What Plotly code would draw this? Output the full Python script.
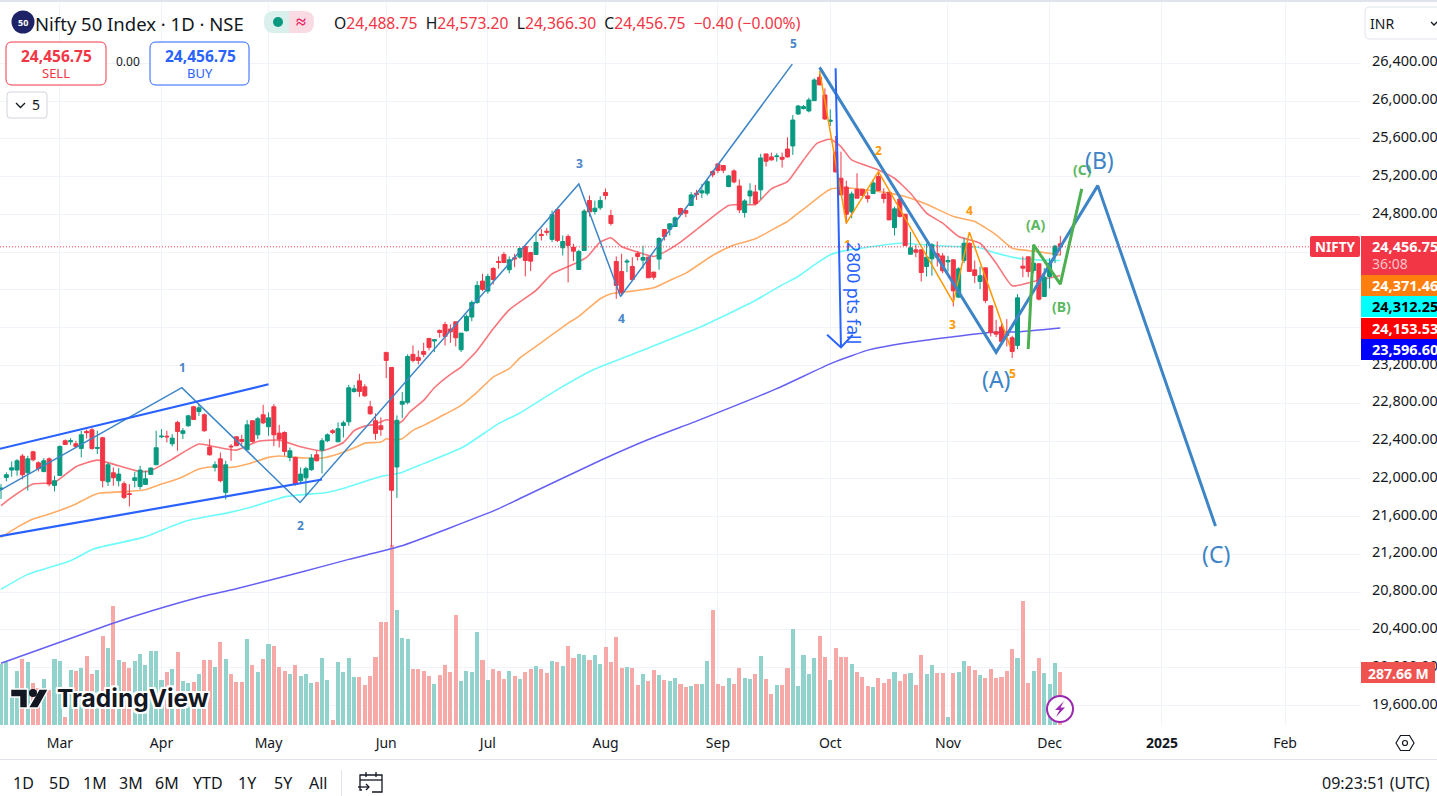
import plotly.graph_objects as go

W, H = 1437, 796
FONT = "Noto Sans"
INK = "#131722"
GREEN = "#089981"
RED = "#f23645"
BLUE = "#2962ff"
WAVE = "#3d85c6"

opens = [
21888,22015,22093,22093,22241,22064,22286,22170,22078,22212,
21930,22036,22403,22392,22371,22322,22502,22519,22322,22435,
21969,22064,21980,21948,21842,21983,21920,21941,22047,22149,
22445,22452,22371,22597,22481,22562,22763,22713,22678,22336,
22121,22212,21856,22346,22445,22417,22308,22615,22466,22678,
22551,22763,22484,22491,22227,22227,21980,22011,22096,22255,
22304,22403,22509,22392,22565,22604,22925,23038,22974,22763,
22615,22562,23339,23180,22125,22790,22810,23318,23286,23349,
23487,23459,23572,23635,23586,23663,23367,23568,23713,23868,
24094,23988,24228,24302,24376,24214,24341,24348,24461,24397,
24376,24588,24623,24535,24852,24447,24566,24454,24217,24418,
24947,24831,24870,25032,24789,24302,24196,24295,24249,24387,
24316,24348,24189,24327,24640,24644,24672,24863,24842,24894,
25025,25028,25025,25254,25335,25318,25095,25261,25102,24820,
24996,25038,25060,25441,25409,25412,25405,25493,25525,25864,
25920,25896,26005,26252,26065,25786,25458,25183,25091,24827,
25067,25067,24996,25021,25201,25017,25035,24661,24964,24802,
24379,24425,24425,24248,24330,24383,24361,24298,24319,23924,
24312,24495,24213,24090,24234,23832,23557,23607,23539,23494,
23413,24252,24351,24206,24277,23931,24143,24365,24488.75]
closes = [
21902,22043,22117,22191,22043,22212,22202,22107,22191,21944,
21980,22343,22364,22403,22343,22466,22488,22322,22332,21980,
22149,22011,22050,21803,21835,22011,22093,22001,22114,22329,
22452,22445,22431,22502,22509,22667,22629,22752,22509,22255,
22149,21980,22149,22339,22350,22396,22572,22396,22636,22593,
22646,22466,22421,22290,22297,21944,22050,22107,22220,22191,
22403,22466,22491,22530,22593,22964,22953,22925,22879,22689,
22481,22523,23254,21879,22620,22820,23296,23254,23254,23318,
23392,23473,23550,23508,23557,23494,23543,23720,23868,24048,
24006,24143,24111,24291,24291,24320,24330,24439,24312,24305,
24503,24577,24612,24799,24524,24513,24471,24411,24408,24835,
24827,24866,24947,25000,24704,24048,23970,24305,24111,24355,
24344,24129,24136,24545,24566,24700,24764,24799,24813,25007,
25011,25050,25148,25219,25265,25268,25208,25144,24848,24943,
25049,24915,25398,25363,25377,25419,25384,25409,25800,25948,
25941,26012,26224,26171,25811,25797,25250,25007,24802,25017,
24972,25000,24968,25134,25053,24968,24742,24859,24778,24471,
24446,24400,24185,24347,24478,24347,24203,24312,23991,24224,
24495,24196,24153,24150,23889,23550,23532,23455,23518,23349,
23917,24231,24196,24284,23903,24136,24284,24464,24456.75]
highs = [
21944,22068,22184,22209,22262,22244,22297,22184,22220,22227,
22033,22354,22417,22431,22403,22509,22523,22537,22509,22445,
22174,22121,22114,21973,21944,22075,22138,22085,22121,22509,
22526,22509,22473,22615,22537,22678,22773,22791,22692,22421,
22184,22279,22191,22368,22445,22466,22622,22622,22657,22784,
22703,22791,22572,22502,22332,22234,22121,22128,22262,22297,
22431,22481,22526,22597,22615,22995,22995,23112,23002,22826,
22692,22650,23339,23180,22672,22919,23318,23413,23360,23441,
23487,23480,23582,23663,23635,23663,23543,23741,23889,24094,
24171,24171,24242,24355,24401,24355,24383,24454,24461,24404,
24602,24648,24658,24842,24852,24577,24588,24489,24425,24856,
25000,24947,24990,25074,24849,24355,24383,24330,24348,24411,
24468,24355,24193,24559,24640,24707,24778,24870,24849,25036,
25060,25124,25177,25265,25335,25321,25218,25278,25172,24961,
25130,25113,25441,25441,25455,25448,25455,25617,25853,25959,
25959,26037,26241,26290,26135,25913,25631,25465,25158,25042,
25236,25067,25042,25165,25243,25077,25038,24883,24972,24806,
24615,24478,24432,24495,24495,24513,24390,24361,24326,24241,
24548,24502,24312,24248,24241,23839,23684,23642,23691,23515,
23956,24354,24354,24361,24284,24231,24337,24478,24573.20]
lows = [
21786,21973,22022,22033,21994,21874,22184,22078,22068,21920,
21867,22036,22357,22361,22325,22227,22428,22308,22262,21909,
21923,21927,21920,21786,21708,21909,21888,21937,22043,22149,
22431,22385,22343,22297,22421,22551,22622,22667,22498,22244,
22078,21962,21782,22191,22350,22361,22308,22382,22421,22579,
22456,22346,22332,22244,22184,21927,21944,21821,22085,22184,
22057,22389,22473,22392,22438,22562,22914,22868,22868,22678,
22413,22456,23067,21281,21798,22644,22789,23233,23212,23289,
23360,23342,23494,23413,23441,23402,23342,23561,23670,23854,
23988,23960,24059,24224,24284,24178,24242,24330,24143,24200,
24376,24524,24577,24506,24506,24365,24080,24305,24217,24418,
24778,24799,24849,24958,24683,23907,23942,24189,24094,24312,
24224,24129,24108,24214,24524,24577,24665,24792,24771,24894,
24954,24972,25000,25194,25237,25237,25088,25130,24813,24767,
24908,24897,24961,25307,25370,25359,25296,25402,25430,25853,
25913,25881,26005,26171,25800,25737,25247,25007,24700,24760,
24972,25000,24926,25017,25049,24919,24742,24577,24767,24471,
24372,24347,24090,24143,24150,24248,24178,24196,23825,23920,
24284,24196,24072,24009,23860,23508,23501,23420,23402,23279,
23374,24136,24136,24178,23889,23924,24016,24284,24366.30]
volumes_m = [
331,340,167,293,358,342,228,199,250,190,
358,348,43,299,293,310,375,277,299,483,
418,646,353,342,310,348,386,326,402,402,
244,288,304,396,239,228,233,277,353,353,
315,451,358,277,233,233,467,326,288,358,
440,429,315,293,277,326,266,277,228,233,
364,244,27,342,288,364,261,261,217,266,
369,559,559,977,624,472,467,304,304,293,
266,223,272,326,288,597,239,293,288,505,
353,244,304,293,250,293,266,250,288,304,
320,304,
282,348,342,320,429,364,386,380,353,380,
331,424,342,478,310,315,310,217,277,239,
299,272,244,239,255,223,206,212,223,223,
348,624,223,212,255,223,310,255,250,277,
375,250,168,217,217,310,521,212,380,277,
364,483,369,244,418,369,369,331,288,261,
212,206,255,228,250,288,239,277,282,217,
380,277,326,282,282,43,282,288,348,320,
299,272,255,304,255,261,293,413,364,673,
228,293,364,282,223,337,287.66]
assert len(opens) == len(closes) == len(highs) == len(lows) == len(volumes_m) == 199

bars = list(range(len(opens)))

month_bars = [11, 30, 50, 72, 91, 113, 134, 155, 177, 196, 217, 240]
month_labels = ["Mar", "Apr", "May", "Jun", "Jul", "Aug", "Sep", "Oct", "Nov", "Dec", "<b>2025</b>", "Feb"]
price_ticks = list(range(19600, 26401, 400))
covered_ticks = [24400, 24000, 23600]

ma20_bar = [0,2,6,10,14,18,22,26,28,32,37,40,44,48,52,56,60,64,66,68,70,72,73,74,75,76.4,79,81,84,86,89,92,95,100,103,107.6,109.5,112,114,116,119,122,124,127,131,136,139,141,144,147,150,152.5,155,157,159,164,167,170,173,176,179,183,186,189,193,198]
ma20_val = [21715,21803,21944,21962,22128,22198,22138,22078,22085,22209,22368,22339,22304,22396,22410,22339,22297,22385,22509,22558,22579,22625,22612,22584,22612,22707,22831,22965,23106,23184,23360,23589,23790,23995,24171,24288,24348,24506,24552,24461,24401,24355,24401,24506,24683,24894,24905,24905,25071,25148,25377,25553,25596,25518,25377,25271,25183,25024,24813,24707,24566,24495,24284,24044,24090,24153.53]
ma50_bar = [0,3,6,10,14,17,18.5,24,27,30,33.5,37,40,43,46.5,50,52,55,57,60,63,66.5,68,71,72,73,75,77,79,82,86,89,92,95,97,100,106,108,112,114,118,122,125,128,133,137,141,145.6,147,150.6,155,159,165.5,169,173,178,182,186,189,193.6,198]
ma50_val = [21380,21486,21574,21645,21733,21821,21849,21867,21884,21944,22008,22103,22128,22121,22163,22227,22241,22227,22220,22220,22262,22339,22378,22389,22424,22415,22425,22513,22566,22655,22778,22919,23078,23166,23282,23403,23649,23720,23907,23960,23988,24023,24101,24178,24365,24475,24542,24683,24725,24883,25067,25077,25031,24989,24908,24778,24725,24584,24442,24407,24371.46]
ma100_bar = [0,5,13,17.3,26.6,34.7,42.8,47,53.4,60.9,64.6,70.8,74.6,79,86.4,93,97,104,110.7,120.7,130.7,141,146,149,152.5,155,157.5,162,168,173,178,182.5,186,190,193.6,198]
ma100_val = [20830,20988,21133,21257,21380,21556,21645,21705,21814,21856,21909,22022,22061,22161,22337,22584,22697,22945,23156,23378,23607,23889,24054,24143,24284,24372,24414,24453,24495,24478,24460,24453,24390,24337,24319,24312.25]
ma200_bar = [0,20.4,27.9,37.8,43.6,56,65,74.6,92.7,97,112,121,130.7,145,155.5,162.4,169.4,178,184.3,190.5,198]
ma200_val = [20047,20460,20597,20756,20830,21010,21147,21285,21676,21792,22194,22416,22627,22955,23230,23368,23442,23505,23548,23558,23596.60]

wave_bar = [-0.2,33.8,55.9,108,115.8,147.9]
wave_val = [21877,22966,21750,25123,23931,26392]
abc_bar = [153,186,205,227]
abc_val = [26357,23339,25105,21499]
channel_top_bar = [-0.2,50]
channel_top_val = [22318,23001]
channel_low_bar = [-0.2,60]
channel_low_val = [21394,21993]
arrow_bar = [156,157]
arrow_val = [26347,23392]
arrow_head_bar = [154.4,157,159.2]
arrow_head_val = [23526,23392,23526]
sub_wave_bar = [153,158,164,178,181,188.6]
sub_wave_val = [26321,24708,25253,23868,24613,23403]
abc_small_bar = [192,193,198,202]
abc_small_val = [23375,24478,24062,25070]
last_line_bar = [-0.2,244.5]
last_close = closes[-1]

X0, X1 = 0, 1361
Y_TOP, Y_BOT = 3, 725
x_range = [-0.187, 254.2]
price_range = [19393, 27039]
vol_range = [0, 3920]
dom_x = [X0 / W, X1 / W]
dom_y = [1 - Y_BOT / H, 1 - Y_TOP / H]

fig = go.Figure()

vol_colors = ["#92d2cc" if c >= o else "#f7a9a7" for o, c in zip(opens, closes)]
fig.add_bar(x=bars, y=volumes_m, marker=dict(color=vol_colors, line_width=0), width=0.76, yaxis="y", hoverinfo="skip")

for xs, ys, col, wd in [(ma200_bar, ma200_val, "#6560f2", 1.5), (ma100_bar, ma100_val, "#70fbfb", 1.6),
                        (ma50_bar, ma50_val, "#ffad66", 1.6), (ma20_bar, ma20_val, "#f8757b", 1.6)]:
    fig.add_scatter(x=xs, y=ys, mode="lines", line=dict(color=col, width=wd, shape="spline", smoothing=0.5), yaxis="y2", hoverinfo="skip")

fig.add_candlestick(x=bars, open=opens, high=highs, low=lows, close=closes, yaxis="y3", whiskerwidth=0,
                    increasing=dict(line=dict(color=GREEN, width=1), fillcolor=GREEN),
                    decreasing=dict(line=dict(color=RED, width=1), fillcolor=RED), hoverinfo="skip")

fig.add_scatter(x=last_line_bar, y=[last_close, last_close], mode="lines", line=dict(color=RED, width=1, dash="1px 2px"), yaxis="y3", hoverinfo="skip")
for xs, ys, col, wd in [(wave_bar, wave_val, WAVE, 1.5), (channel_top_bar, channel_top_val, BLUE, 2.2), (channel_low_bar, channel_low_val, BLUE, 2.2),
                        (sub_wave_bar, sub_wave_val, "#ff9800", 1.5), (abc_bar, abc_val, WAVE, 3), (abc_small_bar, abc_small_val, "#4caf50", 3),
                        (arrow_bar, arrow_val, BLUE, 2), (arrow_head_bar, arrow_head_val, BLUE, 2)]:
    fig.add_scatter(x=xs, y=ys, mode="lines", line=dict(color=col, width=wd), yaxis="y3", hoverinfo="skip")

shapes, notes = [], []

def px(x): return x / W
def py(y): return 1 - y / H

def rect(x0, y0, x1, y1, fill="rgba(0,0,0,0)", line=None, lw=1):
    shapes.append(dict(type="rect", xref="paper", yref="paper", x0=px(x0), x1=px(x1), y0=py(y0), y1=py(y1), fillcolor=fill, line=dict(color=line or fill, width=lw if line else 0), layer="above"))

def rrect(x0, y0, x1, y1, r, fill="rgba(0,0,0,0)", line=None, lw=1):
    p = (f"M{px(x0+r)},{py(y0)}L{px(x1-r)},{py(y0)}Q{px(x1)},{py(y0)} {px(x1)},{py(y0+r)}L{px(x1)},{py(y1-r)}Q{px(x1)},{py(y1)} {px(x1-r)},{py(y1)}"
         f"L{px(x0+r)},{py(y1)}Q{px(x0)},{py(y1)} {px(x0)},{py(y1-r)}L{px(x0)},{py(y0+r)}Q{px(x0)},{py(y0)} {px(x0+r)},{py(y0)}Z")
    shapes.append(dict(type="path", xref="paper", yref="paper", path=p, fillcolor=fill, line=dict(color=line or fill, width=lw if line else 0), layer="above"))

def poly(pts, fill=None, line=None, lw=1, close=True):
    p = "M" + "L".join(f"{px(a)},{py(b)}" for a, b in pts) + ("Z" if close else "")
    shapes.append(dict(type="path", xref="paper", yref="paper", path=p, fillcolor=fill or "rgba(0,0,0,0)", line=dict(color=line or "rgba(0,0,0,0)", width=lw), layer="above"))

def circle(cx, cy, r, fill="rgba(0,0,0,0)", line=None, lw=1):
    shapes.append(dict(type="circle", xref="paper", yref="paper", x0=px(cx-r), x1=px(cx+r), y0=py(cy-r), y1=py(cy+r), fillcolor=fill, line=dict(color=line or fill, width=lw if line else 0), layer="above"))

def note(x, y, text, size=14, color=INK, anchor="center", angle=0, family=FONT, shadow=None):
    font = dict(size=size, color=color, family=family)
    if shadow:
        font["shadow"] = shadow
    notes.append(dict(xref="paper", yref="paper", x=px(x), y=py(y), text=text, showarrow=False, xanchor=anchor, yanchor="middle", font=font, textangle=angle, borderpad=0, borderwidth=0))

# top strip
rect(0, 0, W, 2, fill="#e0e3eb")

# wave labels
for x, y, t in [(182, 367, "1"), (300, 525, "2"), (579, 163, "3"), (621, 318, "4"), (793, 43, "5")]:
    note(x, y, f"<b>{t}</b>", 12, "#4a86c8")
for x, y, t in [(847, 245, "1"), (878, 151, "2"), (953, 324, "3"), (969, 211, "4"), (1013, 373, "5")]:
    note(x, y, f"<b>{t}</b>", 12, "#ff9800")
for x, y, t in [(1035, 224, "(A)"), (1061, 306, "(B)"), (1082, 169, "(C)")]:
    note(x, y, f"<b>{t}</b>", 14, "#5cb860")
for x, y, t in [(996, 379, "(A)"), (1099, 160, "(B)"), (1216, 554, "(C)")]:
    note(x, y, t, 23, "#3d85c6")
note(854, 293, "2800 pts fall", 18, BLUE, angle=90)

# legend
circle(23, 22, 11.5, fill="#1e2266")
note(23, 22.5, "<b>50</b>", 9, "#ffffff")
note(35, 23, "Nifty 50 Index · 1D · NSE", 18.5, INK, "left")
rrect(264, 11, 296, 33, 10, fill="#d9f0ec")
rrect(280, 11, 314, 33, 10, fill="#fbdbe3")
rect(280, 11, 289, 33, fill="#d9f0ec")
circle(278, 22, 5, fill=GREEN)
note(301, 21, "<b>≈</b>", 18, "#e91e63")
note(334, 23, f'O<span style="color:{RED}">24,488.75</span>  H<span style="color:{RED}">24,573.20</span>  L<span style="color:{RED}">24,366.30</span>  C<span style="color:{RED}">24,456.75</span>  <span style="color:{RED}">−0.40 (−0.00%)</span>', 15.7, INK, "left")

# buy and sell
rrect(6, 42, 106, 85, 6, fill="#ffffff", line=RED)
note(56, 56, "<b>24,456.75</b>", 15.5, RED)
note(56, 73, "SELL", 13, RED)
note(128, 62, "0.00", 12, INK)
rrect(150, 42, 249, 85, 6, fill="#ffffff", line=BLUE)
note(200, 56, "<b>24,456.75</b>", 15.5, BLUE)
note(200, 73, "BUY", 13, BLUE)
rrect(7, 92, 47, 118, 3, fill="#ffffff", line="#d1d4dc")
poly([(16, 103), (20.5, 107.5), (25, 103)], line=INK, lw=1.3, close=False)
note(36, 105, "5", 14, INK)

# currency box
rrect(1365, 7, 1445, 39, 5, fill="#ffffff", line="#e0e3eb")
note(1370, 23, "INR", 14, INK, "left")
poly([(1431, 22), (1434, 25), (1437, 22)], line=INK, lw=1.3, close=False)

# price tags
rrect(1310, 236, 1360, 257, 2, fill=RED)
note(1335, 246.5, "<b>NIFTY</b>", 13.5, "#ffffff")
TAG_X0, TAG_X1 = 1361, 1437
rect(TAG_X0, 236, TAG_X1, 275, fill=RED)
note(1372, 246, "<b>24,456.75</b>", 14.5, "#ffffff", "left")
note(1372, 263.5, "36:08", 14, "#fbc4ca", "left")
for y0, y1, fill, txt, col in [(275, 296, "#ff7f0e", "24,371.46", "#ffffff"), (296, 317, "#00ffff", "24,312.25", "#000000"),
                               (318, 339, "#ff0000", "24,153.53", "#ffffff"), (339, 360, "#0000ff", "23,596.60", "#ffffff")]:
    rect(TAG_X0, y0, TAG_X1, y1, fill=fill)
    note(1372, (y0 + y1) / 2 - 0.5, f"<b>{txt}</b>", 14.5, col, "left")
rect(1361, 662, 1435, 683, fill="#ef5350")
note(1398, 673, "<b>287.66 M</b>", 14, "#ffffff")

# logo
HALO = "2px 0 0 #fff, -2px 0 0 #fff, 0 2px 0 #fff, 0 -2px 0 #fff, 2px 2px 0 #fff, -2px -2px 0 #fff, 2px -2px 0 #fff, -2px 2px 0 #fff"
for pts in ([(10.5, 689), (27.5, 689), (27.5, 708), (19.5, 708), (19.5, 697), (10.5, 697)], [(39, 689), (48.5, 689), (38, 708), (28, 708)]):
    poly(pts, fill="#131722", line="#ffffff", lw=1.5)
circle(33, 693, 4, fill="#131722")
note(57, 698, "<b>TradingView</b>", 24.5, "#131722", "left", family="Inter", shadow=HALO)

# lightning badge
circle(1060, 709, 13, fill="#ffffff", line="#9c27b0", lw=2)
poly([(1064, 701), (1055, 710), (1059.5, 710), (1056, 717), (1065, 707.5), (1060.5, 707.5)], fill="#9c27b0")

# bottom bars
rect(0, 759, W, 760, fill="#e0e3eb")
for x, t in [(24, "1D"), (59, "5D"), (95, "1M"), (131, "3M"), (167, "6M"), (208, "YTD"), (248, "1Y"), (283, "5Y"), (318, "All")]:
    note(x, 783, t, 16, INK)
rect(341, 770, 342, 796, fill="#e0e3eb")
poly([(362, 790), (360, 790), (360, 775), (382, 775), (382, 792), (372, 792)], line=INK, lw=1.3, close=False)
poly([(360, 780), (382, 780)], line=INK, lw=1.3, close=False)
poly([(366, 772), (366, 777)], line=INK, lw=1.3, close=False)
poly([(376, 772), (376, 777)], line=INK, lw=1.3, close=False)
poly([(358, 787), (369, 787)], line=INK, lw=1.3, close=False)
poly([(366, 784), (369, 787), (366, 790)], line=INK, lw=1.3, close=False)
note(1430, 783, "09:23:51 (UTC)", 16, INK, "right")
poly([(1396, 743), (1400.5, 735.5), (1409.5, 735.5), (1414, 743), (1409.5, 750.5), (1400.5, 750.5)], line=INK, lw=1.2)
circle(1405, 743, 2.5, line=INK, lw=1.2)

GRID = "#f0f3fa"
fig.update_layout(
    width=W, height=H, margin=dict(l=0, r=0, t=0, b=0), paper_bgcolor="#ffffff", plot_bgcolor="#ffffff",
    showlegend=False, boxgap=0.1, boxgroupgap=0.17, bargap=0, shapes=shapes, annotations=notes, hovermode=False,
    xaxis=dict(domain=dom_x, range=x_range, tickmode="array", tickvals=month_bars, ticktext=month_labels, showgrid=True, gridcolor=GRID, gridwidth=1,
               zeroline=False, showline=False, ticks="", ticklabelstandoff=8, tickfont=dict(family=FONT, size=14, color=INK), rangeslider=dict(visible=False)),
    yaxis=dict(domain=dom_y, range=vol_range, visible=False, fixedrange=True),
    yaxis2=dict(domain=dom_y, range=price_range, overlaying="y", side="right", anchor="x", tickmode="array", tickvals=price_ticks,
                ticktext=["" if v in covered_ticks else f"{v:,.2f}" for v in price_ticks], showgrid=True, gridcolor=GRID, gridwidth=1, zeroline=False, showline=False, ticks="",
                ticklabelstandoff=10, ticklabelshift=-2, tickfont=dict(family=FONT, size=14.5, color=INK)),
    yaxis3=dict(domain=dom_y, range=price_range, overlaying="y", side="right", anchor="x", visible=False),
)

fig.write_html("out.html", config={"displayModeBar": False, "staticPlot": True},
               post_script="document.body.style.margin='0';document.documentElement.style.overflow='hidden';document.body.style.overflow='hidden';")
